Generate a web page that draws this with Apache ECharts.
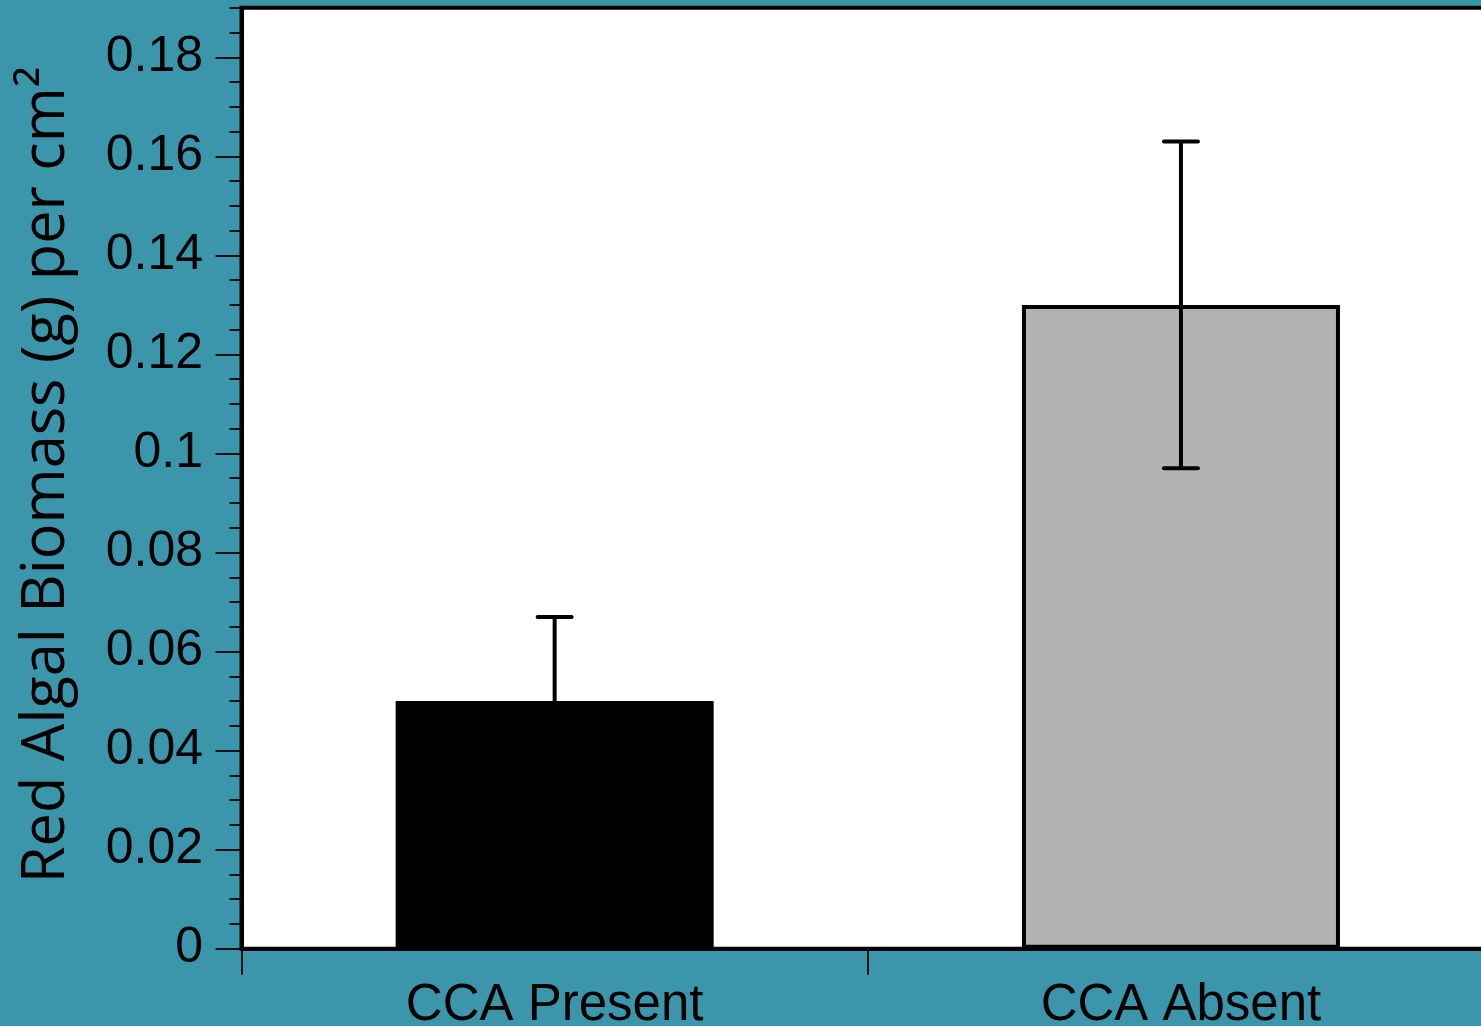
<!DOCTYPE html>
<html>
<head>
<meta charset="utf-8">
<script src="https://cdn.jsdelivr.net/npm/echarts@6/dist/echarts.min.js"></script>
<style>
html,body{margin:0;padding:0;background:#3c96ab;}
#chart{width:1481px;height:1026px;}
</style>
</head>
<body>
<div id="chart"></div>
<script>
// ---- data ----
const categories = ['CCA Present', 'CCA Absent'];
const meanValues = [0.05, 0.13];
const errorValues = [0.017, 0.033];
const barColors = ['#000000', '#b3b3b3'];
const yMin = 0;
const yMax = 0.19;
const yLabelMax = 0.18;
const yMajorStep = 0.02;
const yMinorStep = 0.005;
const yAxisTitle = 'Red Algal Biomass (g) per cm\u00b2';

// ---- layout ----
const gLeft = 241.5, gTop = 7.8, gHeight = 940.9, gWidth = 1252.6;
const labelGridTop = gTop + gHeight * (yMax - yLabelMax) / (yMax - yMin);
const labelGridHeight = gHeight - (labelGridTop - gTop);

const chart = echarts.init(document.getElementById('chart'), null, {renderer: 'canvas'});

const barData = meanValues.map((v, i) => ({
  value: v,
  itemStyle: {color: barColors[i], borderColor: '#000', borderWidth: 4}
}));
const errData = meanValues.map((v, i) => [i, v - errorValues[i], v + errorValues[i]]);

const option = {
  backgroundColor: '#3c96ab',
  animation: false,
  grid: [
    {left: gLeft, top: gTop, width: gWidth, height: gHeight, show: true,
     backgroundColor: '#ffffff', borderColor: '#000', borderWidth: 4, containLabel: false,
     outerBoundsMode: 'none'},
    {left: gLeft, top: labelGridTop, width: gWidth, height: labelGridHeight, show: false, containLabel: false,
     outerBoundsMode: 'none'}
  ],
  xAxis: [
    {type: 'category', gridIndex: 0, data: categories,
     axisLine: {show: true, lineStyle: {color: '#000', width: 4}},
     axisTick: {show: true, length: 26, lineStyle: {color: '#111', width: 2}},
     axisLabel: {color: '#000', fontSize: 51, fontFamily: 'Liberation Sans', margin: 32},
     splitLine: {show: false}},
    {type: 'category', gridIndex: 1, data: categories, show: false}
  ],
  yAxis: [
    {type: 'value', gridIndex: 0, min: yMin, max: yMax, interval: yMinorStep,
     axisLine: {show: true, lineStyle: {color: '#000', width: 4}},
     axisTick: {show: true, length: 12, lineStyle: {color: '#111', width: 2}},
     axisLabel: {show: false},
     splitLine: {show: false},
     name: yAxisTitle, nameLocation: 'middle', nameRotate: 90, nameGap: 164,
     nameTextStyle: {color: '#000', fontSize: 59.5, fontFamily: 'Open Sans', padding: [0, 0, 0, 7]}},
    {type: 'value', gridIndex: 1, min: yMin, max: yLabelMax, interval: yMajorStep,
     axisLine: {show: false},
     axisTick: {show: true, length: 26, lineStyle: {color: '#111', width: 2}},
     axisLabel: {show: true, color: '#000', fontSize: 50, fontFamily: 'Liberation Sans', margin: 38.5,
                 formatter: v => String(+v.toFixed(2))},
     splitLine: {show: false}}
  ],
  series: [
    {type: 'bar', xAxisIndex: 0, yAxisIndex: 0, data: barData, barWidth: 318, z: 2},
    {type: 'custom', xAxisIndex: 0, yAxisIndex: 0, data: errData, z: 5,
     renderItem: function (params, api) {
       const x = api.value(0);
       const pHi = api.coord([x, api.value(2)]);
       const pLo = api.coord([x, api.value(1)]);
       const half = 17;
       const st = {stroke: '#000', lineWidth: 4, lineCap: 'round'};
       return {type: 'group', children: [
         {type: 'line', shape: {x1: pHi[0], y1: pHi[1], x2: pLo[0], y2: pLo[1]}, style: {stroke: '#000', lineWidth: 4}},
         {type: 'line', shape: {x1: pHi[0] - half, y1: pHi[1], x2: pHi[0] + half, y2: pHi[1]}, style: st},
         {type: 'line', shape: {x1: pLo[0] - half, y1: pLo[1], x2: pLo[0] + half, y2: pLo[1]}, style: st}
       ]};
     }}
  ]
};
chart.setOption(option);
</script>
</body>
</html>
